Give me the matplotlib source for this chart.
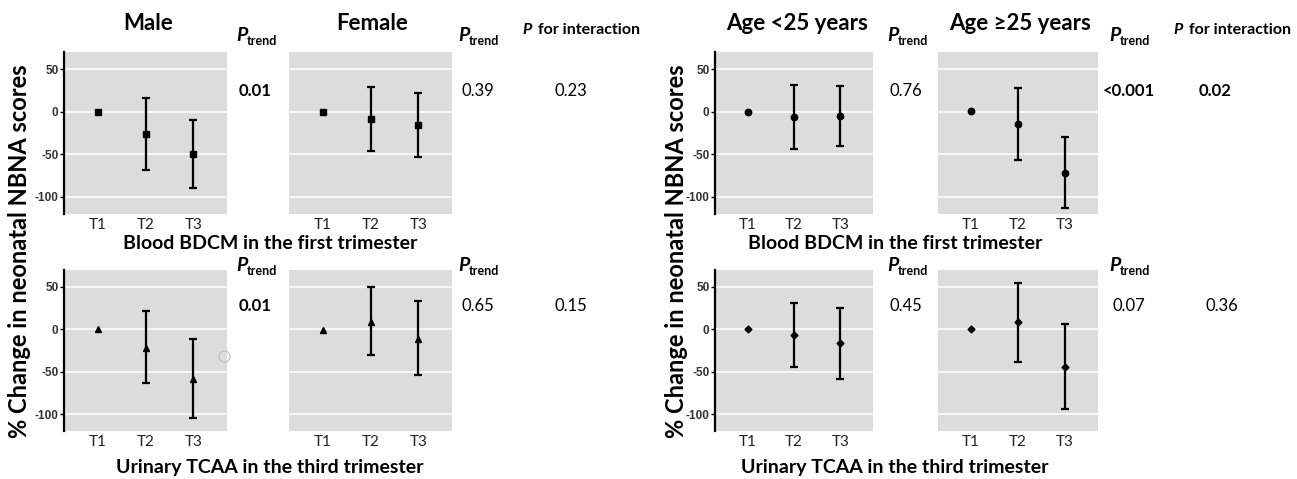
import matplotlib
matplotlib.use("Agg")
import matplotlib.pyplot as plt
from matplotlib.lines import Line2D

W, H = 1297, 479
plt.rcParams['font.family'] = ['Lato', 'DejaVu Sans']

categories = ["T1", "T2", "T3"]
yticks = [50, 0, -50, -100]

# (estimate, lower, upper) per tertile
male_bdcm_est = [0, -25.8, -49.6]
male_bdcm_lo = [0, -68, -89.5]
male_bdcm_hi = [0, 16, -10]
female_bdcm_est = [0, -8.6, -16]
female_bdcm_lo = [0, -46.5, -53]
female_bdcm_hi = [0, 29, 21.5]
young_bdcm_est = [0, -6, -5.3]
young_bdcm_lo = [0, -43.6, -40.8]
young_bdcm_hi = [0, 31, 30.6]
old_bdcm_est = [1, -14.3, -71.8]
old_bdcm_lo = [1, -57, -112.6]
old_bdcm_hi = [1, 28, -30]

male_tcaa_est = [0, -22.5, -59]
male_tcaa_lo = [0, -63.8, -104.4]
male_tcaa_hi = [0, 21.3, -11]
female_tcaa_est = [-1, 8.9, -11.4]
female_tcaa_lo = [-1, -30.7, -53.7]
female_tcaa_hi = [-1, 49.8, 33]
young_tcaa_est = [0, -7.2, -16.4]
young_tcaa_lo = [0, -45, -58.2]
young_tcaa_hi = [0, 31.3, 25.3]
old_tcaa_est = [0, 8.3, -44]
old_tcaa_lo = [0, -38, -94.3]
old_tcaa_hi = [0, 55, 6.3]

p_trend = {
    "male_bdcm": "0.01", "female_bdcm": "0.39", "young_bdcm": "0.76", "old_bdcm": "<0.001",
    "male_tcaa": "0.01", "female_tcaa": "0.65", "young_tcaa": "0.45", "old_tcaa": "0.07",
}
p_bold = {"male_bdcm", "old_bdcm", "male_tcaa"}
p_interaction = {"sex_bdcm": "0.23", "age_bdcm": "0.02", "sex_tcaa": "0.15", "age_tcaa": "0.36"}

fig = plt.figure(figsize=(W / 100, H / 100), dpi=100)
fig.patch.set_facecolor("white")


def fx(px):
    return px / W


def fy(py):
    return 1 - py / H


def add_panel(l, r, t, b, est, lo, hi, marker, ms, show_y):
    ax = fig.add_axes([fx(l), fy(b), fx(r - l), (b - t) / H])
    ax.set_facecolor("#DCDCDC")
    x = [1, 2, 3]
    # error bars only where an interval exists (reference level has none)
    idx = [i for i in range(3) if hi[i] > lo[i]]
    ex = [x[i] for i in idx]
    ey = [est[i] for i in idx]
    yerr = [[est[i] - lo[i] for i in idx], [hi[i] - est[i] for i in idx]]
    ax.errorbar(ex, ey, yerr=yerr, fmt="none", ecolor="black",
                elinewidth=1.6, capsize=2.8, capthick=1.6, zorder=3)
    ax.plot(x, est, linestyle="none", marker=marker, color="black", ms=ms, zorder=4)
    ax.set_xlim(0.3, 3.7)
    ax.set_ylim(-120, 70)
    ax.set_yticks(yticks)
    ax.grid(axis="y", color="white", lw=1.1, zorder=0)
    ax.set_axisbelow(True)
    ax.set_xticks(x)
    ax.set_xticklabels(categories, fontsize=11, color="#222222")
    ax.tick_params(axis="x", length=0, pad=3)
    for s in ["top", "right", "bottom"]:
        ax.spines[s].set_visible(False)
    if show_y:
        ax.spines["left"].set_linewidth(1.6)
        ax.spines["left"].set_color("black")
        ax.set_yticklabels([str(v) for v in yticks], fontsize=8.5,
                           fontweight="bold", family="Liberation Sans", color="#333333")
        ax.tick_params(axis="y", length=3, width=1, pad=1)
    else:
        ax.spines["left"].set_visible(False)
        ax.tick_params(axis="y", length=0, labelleft=False)
    return ax


cols = [(64, 227), (289, 452), (715, 873), (938, 1098)]
rows = [(52, 214), (270, 431)]

panels_top = [
    (male_bdcm_est, male_bdcm_lo, male_bdcm_hi, "s", 4.6),
    (female_bdcm_est, female_bdcm_lo, female_bdcm_hi, "s", 4.6),
    (young_bdcm_est, young_bdcm_lo, young_bdcm_hi, "o", 4.6),
    (old_bdcm_est, old_bdcm_lo, old_bdcm_hi, "o", 4.6),
]
panels_bot = [
    (male_tcaa_est, male_tcaa_lo, male_tcaa_hi, "^", 5),
    (female_tcaa_est, female_tcaa_lo, female_tcaa_hi, "^", 5),
    (young_tcaa_est, young_tcaa_lo, young_tcaa_hi, "D", 3.5),
    (old_tcaa_est, old_tcaa_lo, old_tcaa_hi, "D", 3.5),
]
for (t, b), plist in zip(rows, [panels_top, panels_bot]):
    for i, ((l, r), (e, lo, hi, m, ms)) in enumerate(zip(cols, plist)):
        add_panel(l, r, t, b, e, lo, hi, m, ms, show_y=(i in (0, 2)))

# Titles
for txt, x in [("Male", 148), ("Female", 372), ("Age <25 years", 797), ("Age \u226525 years", 1020)]:
    fig.text(fx(x), fy(23), txt, ha="center", va="center", fontsize=16, fontweight="bold")


def ptrend(x, y):
    fig.text(fx(x), fy(y), "P", ha="left", va="baseline", fontsize=14,
             fontweight="bold", style="italic")
    fig.text(fx(x + 11), fy(y + 4), "trend", ha="left", va="baseline", fontsize=9,
             fontweight="bold")


for yy in (41, 271):
    for x in (236, 458, 887, 1109):
        ptrend(x, yy)

# P for interaction headers
for x in (522, 1173):
    fig.text(fx(x), fy(34), "P", ha="left", va="baseline", fontsize=11.5,
             fontweight="bold", style="italic")
    fig.text(fx(x + 12), fy(34), " for interaction", ha="left", va="baseline",
             fontsize=11.5, fontweight="bold")

# P trend values
vpos = {
    "male_bdcm": (255, 91), "female_bdcm": (478, 91), "young_bdcm": (906, 91), "old_bdcm": (1129, 91),
    "male_tcaa": (255, 306), "female_tcaa": (478, 306), "young_tcaa": (906, 306), "old_tcaa": (1129, 306),
}
for k, (x, y) in vpos.items():
    fig.text(fx(x), fy(y), p_trend[k], ha="center", va="center", fontsize=12,
             fontweight="bold" if k in p_bold else "normal")

ipos = {"sex_bdcm": (571, 91), "age_bdcm": (1215, 91), "sex_tcaa": (571, 306), "age_tcaa": (1222, 306)}
for k, (x, y) in ipos.items():
    fig.text(fx(x), fy(y), p_interaction[k], ha="center", va="center", fontsize=12,
             fontweight="bold" if k == "age_bdcm" else "normal")

# group labels
for x in (270, 895):
    fig.text(fx(x), fy(243), "Blood BDCM in the first trimester", ha="center", va="center",
             fontsize=14, fontweight="bold")
    fig.text(fx(x), fy(468), "Urinary TCAA in the third trimester", ha="center", va="center",
             fontsize=14, fontweight="bold")

# y labels
for x in (20, 676):
    fig.text(fx(x), fy(251), "% Change in neonatal NBNA scores", ha="center", va="center",
             rotation=90, fontsize=17, fontweight="bold")

# small grey circle artifact
fig.add_artist(Line2D([fx(224)], [fy(356)], marker="o", ms=8, mfc="none",
                      mec="#BBBBBB", mew=0.8, transform=fig.transFigure))

fig.savefig("out.png", dpi=100)
